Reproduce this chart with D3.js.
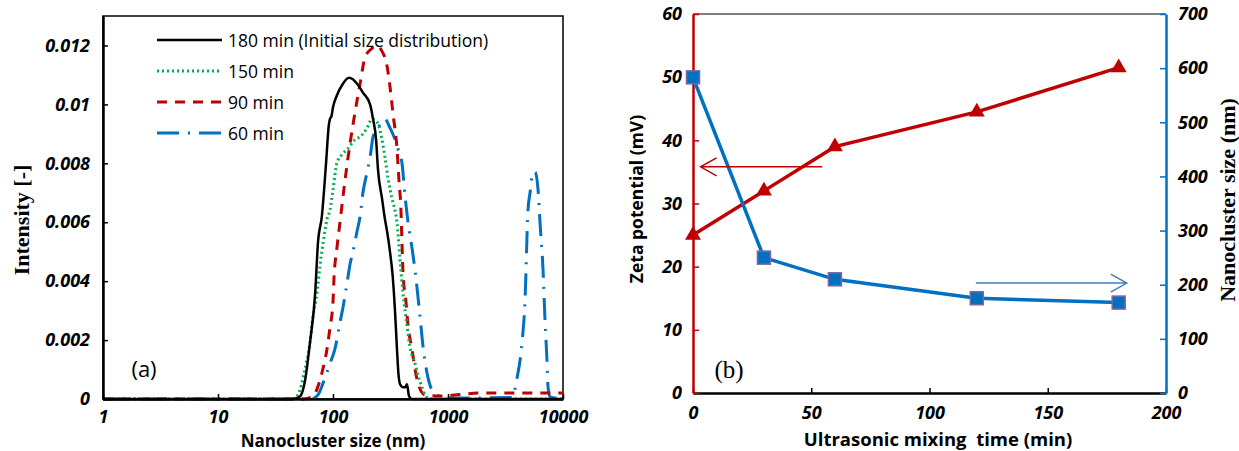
<!DOCTYPE html>
<html>
<head>
<meta charset="utf-8">
<script src="https://cdn.jsdelivr.net/npm/d3@7"></script>
<style>
  body { margin: 0; background: #fff; }
  svg { display: block; }
  .tick text { font-family: "Open Sans", sans-serif; font-weight: bold; font-style: italic; font-size: 18px; fill: #000; }
</style>
</head>
<body>
<div id="chart"></div>
<script>
// ------------------- DATA -------------------

// (a) size distributions: nanocluster size (nm) and intensity [-]
const size180 = [1, 40, 48, 52, 57, 63, 70, 74, 80, 87, 92, 94, 97, 100, 108, 122, 138, 162, 182, 210, 223, 237, 246, 267, 283, 295, 313, 330, 346, 360, 370, 383, 406, 425, 440, 458, 486, 10000];
const int180 = [0, 0, 0.00003, 0.0001, 0.0006, 0.0019, 0.0036, 0.0053, 0.0062, 0.008, 0.0093, 0.0095, 0.0096, 0.0099, 0.0103, 0.0107, 0.0109, 0.0107, 0.0104, 0.01, 0.0095, 0.0088, 0.0078, 0.0068, 0.0061, 0.0057, 0.005, 0.0042, 0.003, 0.0017, 0.0009, 0.0005, 0.0004, 0.0004, 0.0005, 0.0001, 0, 0];

const size150 = [1, 45, 49.6, 57, 63, 67, 72.6, 77, 82, 88.7, 94, 100, 108, 120, 135, 155, 172, 198, 218, 241, 267, 283, 301, 326, 346, 360, 383, 406, 440, 465, 517, 548, 595, 630, 697, 10000];
const int150 = [0, 0, 0.00014, 0.001, 0.0019, 0.0028, 0.0036, 0.0045, 0.0053, 0.0061, 0.0064, 0.0071, 0.008, 0.0083, 0.0085, 0.0088, 0.0089, 0.0092, 0.0095, 0.0094, 0.0088, 0.0082, 0.0075, 0.0068, 0.0064, 0.006, 0.0047, 0.0036, 0.0025, 0.0018, 0.0012, 0.0008, 0.0004, 0.00015, 0, 0];

const size90 = [1, 55, 65.7, 80, 88.7, 94, 100, 102, 108, 115, 127, 141, 155, 172, 190, 218, 237, 267, 295, 313, 332, 360, 375, 390, 398, 406, 431, 449, 486, 517, 548, 630, 850, 1900, 10000];
const int90 = [0, 0, 0.00007, 0.00088, 0.0017, 0.0024, 0.0033, 0.0041, 0.0051, 0.006, 0.0074, 0.0087, 0.0097, 0.0107, 0.0116, 0.0119, 0.012, 0.0118, 0.0113, 0.0106, 0.0097, 0.0085, 0.0074, 0.0064, 0.0053, 0.0043, 0.0033, 0.0025, 0.0017, 0.001, 0.00054, 0.00014, 0.0001, 0.0002, 0.0002];

const size60 = [1, 65, 74, 82, 94, 104, 115, 122, 132, 141, 149, 162, 172, 182, 198, 210, 223, 246, 283, 313, 339, 367, 398, 423, 449, 496, 537, 571, 606, 657, 726, 802, 980, 3600, 3980, 4400, 4670, 4960, 5170, 5480, 5710, 6070, 6310, 6700, 6970, 7260, 7410, 7710, 10000];
const int60 = [0, 0, 0.00014, 0.00054, 0.0012, 0.0017, 0.0026, 0.0031, 0.0039, 0.0046, 0.005, 0.0057, 0.0062, 0.007, 0.0077, 0.0082, 0.0089, 0.0092, 0.0095, 0.0092, 0.0089, 0.0085, 0.008, 0.0069, 0.006, 0.0049, 0.0038, 0.0028, 0.0018, 0.00088, 0.0003, 0.00014, 0.00003, 0.00005, 0.0007, 0.0019, 0.0033, 0.0064, 0.007, 0.0077, 0.0077, 0.0071, 0.006, 0.0044, 0.0027, 0.0013, 0.0004, 0.00007, 0];

const seriesA = [
  { label: "180 min (Initial size distribution)", size: size180, value: int180, color: "#000000", dash: null, width: 2.5 },
  { label: "150 min", size: size150, value: int150, color: "#00b050", dash: "2,3", width: 3 },
  { label: "90 min", size: size90, value: int90, color: "#c00000", dash: "10,8", width: 3 },
  { label: "60 min", size: size60, value: int60, color: "#0070c0", dash: "22,9,2,9", width: 3 }
];

const ticksA_x = [1, 10, 100, 1000, 10000];
const ticksA_y = [0, 0.002, 0.004, 0.006, 0.008, 0.01, 0.012];

// (b) zeta potential and nanocluster size vs mixing time
const mixTime = [0, 30, 60, 120, 180];
const zeta = [25, 32, 39, 44.5, 51.5];
const clusterSize = [583, 250, 210, 175, 167];

const ticksB_x = [0, 50, 100, 150, 200];
const ticksB_yL = [0, 10, 20, 30, 40, 50, 60];
const ticksB_yR = [0, 100, 200, 300, 400, 500, 600, 700];

// ------------------- SVG -------------------

const svg = d3.select("#chart")
  .append("svg")
  .attr("width", 1239)
  .attr("height", 451);

// ------------------- CHART (a) -------------------

const xA = d3.scaleLog().domain([1, 10000]).range([103, 563]);
const yA = d3.scaleLinear().domain([0, 0.013]).range([399, 16]);

// frame
svg.append("rect")
  .attr("x", 103).attr("y", 16)
  .attr("width", 460).attr("height", 383)
  .attr("fill", "none").attr("stroke", "#000").attr("stroke-width", 1.5);

const lineA = d3.line()
  .x(d => xA(d[0]))
  .y(d => yA(d[1]))
  .curve(d3.curveMonotoneX);

// curves, 60 min first so the black one sits on top
seriesA.slice().reverse().forEach(s => {
  svg.append("path")
    .datum(s.size.map((v, i) => [v, s.value[i]]))
    .attr("d", lineA)
    .attr("fill", "none")
    .attr("stroke", s.color)
    .attr("stroke-width", s.width)
    .attr("stroke-dasharray", s.dash)
    .attr("stroke-linejoin", "round");
});

// axes
const axA_x = svg.append("g")
  .attr("transform", "translate(0,399)")
  .call(d3.axisBottom(xA).tickValues(ticksA_x).tickFormat(d3.format("d")).tickSizeInner(-5).tickSizeOuter(0).tickPadding(11));
const axA_y = svg.append("g")
  .attr("transform", "translate(103,0)")
  .call(d3.axisLeft(yA).tickValues(ticksA_y).tickFormat(d => d === 0 ? "0" : String(+d.toFixed(3))).tickSizeInner(-5).tickSizeOuter(0).tickPadding(13));
[axA_x, axA_y].forEach(g => {
  g.select(".domain").attr("stroke", "#000").attr("stroke-width", 2.5);
  g.selectAll(".tick line").attr("stroke", "#000").attr("stroke-width", 1.5);
});

// legend
const legend = svg.append("g");
seriesA.forEach((s, i) => {
  const ly = 40 + i * 31;
  legend.append("line")
    .attr("x1", 157).attr("x2", 222).attr("y1", ly).attr("y2", ly)
    .attr("stroke", s.color).attr("stroke-width", s.width)
    .attr("stroke-dasharray", s.dash);
  legend.append("text")
    .attr("x", 228).attr("y", ly)
    .attr("dominant-baseline", "central")
    .style("font-family", "'Open Sans', sans-serif")
    .style("font-size", "17.5px")
    .text(s.label);
});

// titles
svg.append("text")
  .attr("transform", "translate(21,220) rotate(-90)")
  .attr("text-anchor", "middle").attr("dominant-baseline", "central")
  .style("font-family", "'Liberation Serif', serif").style("font-weight", "bold").style("font-size", "22px")
  .text("Intensity [-]");
svg.append("text")
  .attr("x", 333).attr("y", 440)
  .attr("text-anchor", "middle").attr("dominant-baseline", "central")
  .style("font-family", "'Open Sans', sans-serif").style("font-weight", "bold").style("font-size", "17px")
  .text("Nanocluster size (nm)");
svg.append("text")
  .attr("x", 144).attr("y", 368)
  .attr("text-anchor", "middle").attr("dominant-baseline", "central")
  .style("font-family", "'Open Sans', sans-serif").style("font-size", "22px")
  .text("(a)");

// ------------------- CHART (b) -------------------

const xB = d3.scaleLinear().domain([0, 200]).range([693, 1166]);
const yBL = d3.scaleLinear().domain([0, 60]).range([393, 14]);
const yBR = d3.scaleLinear().domain([0, 700]).range([393, 14]);

// top border
svg.append("line")
  .attr("x1", 693).attr("x2", 1166).attr("y1", 14).attr("y2", 14)
  .attr("stroke", "#000").attr("stroke-width", 1.2);

const axB_x = svg.append("g")
  .attr("transform", "translate(0,393)")
  .call(d3.axisBottom(xB).tickValues(ticksB_x).tickSizeInner(-5).tickSizeOuter(0).tickPadding(13));
axB_x.select(".domain").attr("stroke", "#000").attr("stroke-width", 2.5);
axB_x.selectAll(".tick line").attr("stroke", "#000").attr("stroke-width", 1.5);

const axB_yL = svg.append("g")
  .attr("transform", "translate(693,0)")
  .call(d3.axisLeft(yBL).tickValues(ticksB_yL).tickSizeInner(-6).tickSizeOuter(0).tickPadding(11));
axB_yL.select(".domain").attr("stroke", "#c00000").attr("stroke-width", 2.5);
axB_yL.selectAll(".tick line").attr("stroke", "#c00000").attr("stroke-width", 1.5);

const axB_yR = svg.append("g")
  .attr("transform", "translate(1166,0)")
  .call(d3.axisRight(yBR).tickValues(ticksB_yR).tickSizeInner(-6).tickSizeOuter(0).tickPadding(12));
axB_yR.select(".domain").attr("stroke", "#0070c0").attr("stroke-width", 2.5);
axB_yR.selectAll(".tick line").attr("stroke", "#0070c0").attr("stroke-width", 1.5);

// zeta potential (red, triangles)
svg.append("path")
  .datum(mixTime.map((t, i) => [t, zeta[i]]))
  .attr("d", d3.line().x(d => xB(d[0])).y(d => yBL(d[1])))
  .attr("fill", "none").attr("stroke", "#c00000").attr("stroke-width", 3.5);
svg.selectAll(".tri")
  .data(mixTime.map((t, i) => [t, zeta[i]]))
  .enter().append("path")
  .attr("class", "tri")
  .attr("transform", d => "translate(" + xB(d[0]) + "," + yBL(d[1]) + ")")
  .attr("d", d3.symbol(d3.symbolTriangle, 110))
  .attr("fill", "#c00000");

// nanocluster size (blue, squares)
svg.append("path")
  .datum(mixTime.map((t, i) => [t, clusterSize[i]]))
  .attr("d", d3.line().x(d => xB(d[0])).y(d => yBR(d[1])))
  .attr("fill", "none").attr("stroke", "#0070c0").attr("stroke-width", 3.5);
svg.selectAll(".sq")
  .data(mixTime.map((t, i) => [t, clusterSize[i]]))
  .enter().append("rect")
  .attr("class", "sq")
  .attr("x", d => xB(d[0]) - 6.5).attr("y", d => yBR(d[1]) - 6.5)
  .attr("width", 13).attr("height", 13)
  .attr("fill", "#0070c0").attr("stroke", "#8064a2").attr("stroke-width", 1.5);

// arrows pointing at the axes
function arrow(x1, x2, y, col) {
  const dir = x2 > x1 ? -1 : 1;
  svg.append("path")
    .attr("d", "M" + x1 + "," + y + "H" + x2 +
      "M" + (x2 + dir * 16) + "," + (y - 9) + "L" + x2 + "," + y + "L" + (x2 + dir * 16) + "," + (y + 9))
    .attr("fill", "none").attr("stroke", col).attr("stroke-width", 1.5);
}
arrow(xB(54.6), xB(3.2), yBL(35.8), "#c00000");
arrow(xB(119.6), xB(183.4), yBR(203), "#4a7ebb");

// titles
svg.append("text")
  .attr("transform", "translate(636,199) rotate(-90)")
  .attr("text-anchor", "middle").attr("dominant-baseline", "central")
  .style("font-family", "'Open Sans', sans-serif").style("font-weight", "bold").style("font-size", "17.5px")
  .text("Zeta potential (mV)");
svg.append("text")
  .attr("transform", "translate(1227,200) rotate(-90)")
  .attr("text-anchor", "middle").attr("dominant-baseline", "central")
  .style("font-family", "'Liberation Serif', serif").style("font-weight", "bold").style("font-size", "22px")
  .text("Nanocluster size (nm)");
svg.append("text")
  .attr("x", 938).attr("y", 438)
  .attr("text-anchor", "middle").attr("dominant-baseline", "central")
  .style("font-family", "'Open Sans', sans-serif").style("font-weight", "bold").style("font-size", "18.5px")
  .style("white-space", "pre")
  .text("Ultrasonic mixing  time (min)");
svg.append("text")
  .attr("x", 729).attr("y", 369)
  .attr("text-anchor", "middle").attr("dominant-baseline", "central")
  .style("font-family", "'Liberation Serif', serif").style("font-size", "25px")
  .text("(b)");
</script>
</body>
</html>
